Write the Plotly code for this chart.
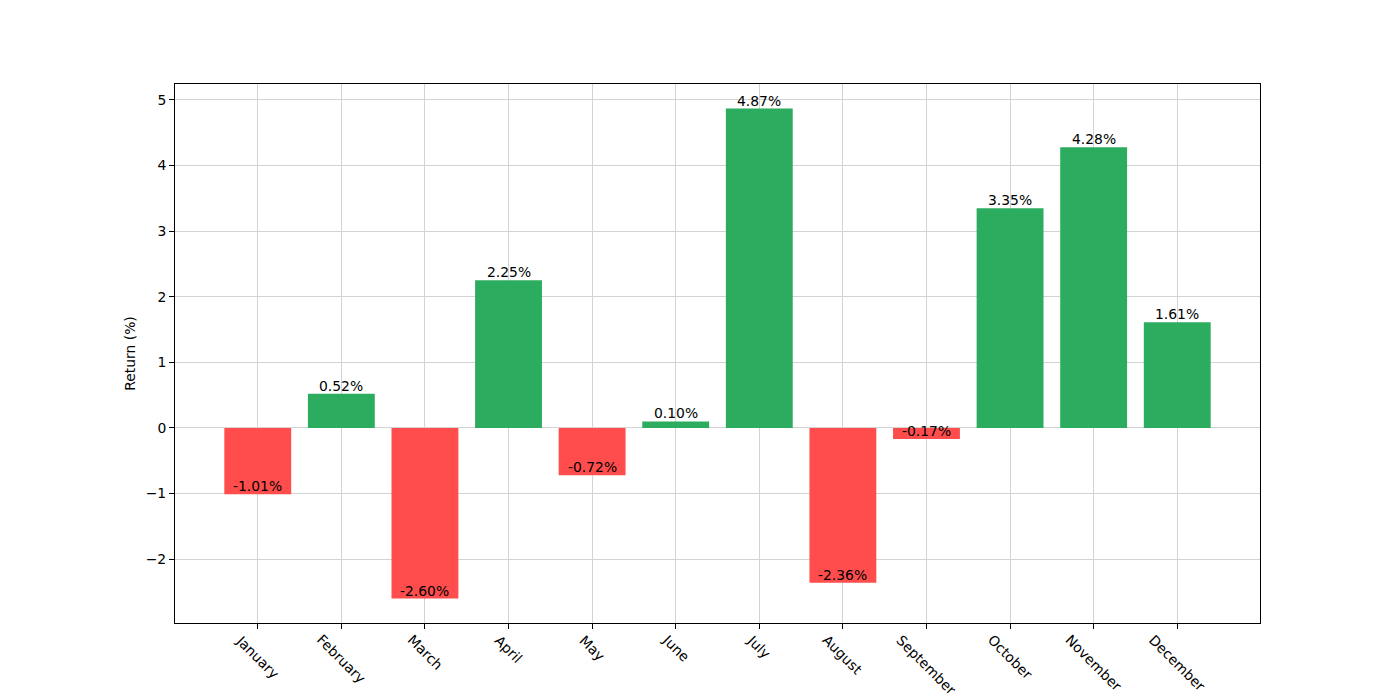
import plotly.graph_objects as go

months = ["January", "February", "March", "April", "May", "June", "July",
          "August", "September", "October", "November", "December"]
returns = [-1.01, 0.52, -2.60, 2.25, -0.72, 0.10, 4.87, -2.36, -0.17, 3.35, 4.28, 1.61]
y_ticks = [-2, -1, 0, 1, 2, 3, 4, 5]

GREEN = "#2cac5e"
RED = "#ff4d4d"
colors = [GREEN if v >= 0 else RED for v in returns]
FONT = "DejaVu Sans"
FS = 13.9

x_idx = list(range(len(months)))

fig = go.Figure()
fig.add_trace(go.Bar(x=x_idx, y=returns, marker=dict(color=colors, line=dict(width=0)),
                     width=0.8, showlegend=False, hoverinfo="skip"))

for i, v in zip(x_idx, returns):
    fig.add_annotation(x=i, y=v, text=f"{v:.2f}%", showarrow=False,
                       xanchor="center", yanchor="bottom", yshift=-2,
                       font=dict(family=FONT, size=FS, color="black"))

# rotated month labels, centred under each tick like matplotlib
for i, m in zip(x_idx, months):
    fig.add_annotation(x=i, xref="x", y=0, yref="paper", text=m, showarrow=False,
                       textangle=45, xanchor="center", yanchor="top", yshift=-6,
                       font=dict(family=FONT, size=FS, color="black"))

vmin, vmax = min(min(returns), 0), max(max(returns), 0)
pad = 0.05 * (vmax - vmin)

fig.update_layout(
    width=1400, height=700,
    margin=dict(l=175, r=140, t=84, b=77, autoexpand=False),
    paper_bgcolor="white", plot_bgcolor="white",
    font=dict(family=FONT, size=FS, color="black"),
    xaxis=dict(tickmode="array", tickvals=x_idx, showticklabels=False,
               range=[-0.99, 11.99], showgrid=True, gridcolor="#d3d3d3", gridwidth=1,
               showline=True, linecolor="black", linewidth=1, mirror=True,
               ticks="outside", ticklen=5, tickcolor="black", zeroline=False),
    yaxis=dict(tickmode="array", tickvals=y_ticks, range=[vmin - pad, vmax + pad],
               showgrid=True, gridcolor="#d3d3d3", gridwidth=1,
               showline=True, linecolor="black", linewidth=1, mirror=True,
               ticks="outside", ticklen=5, tickcolor="black", zeroline=False,
               title=dict(text="Return (%)", standoff=6, font=dict(size=FS))),
)

fig.write_html("out.html", config={"displayModeBar": False},
               post_script="document.body.style.margin='0px';")
